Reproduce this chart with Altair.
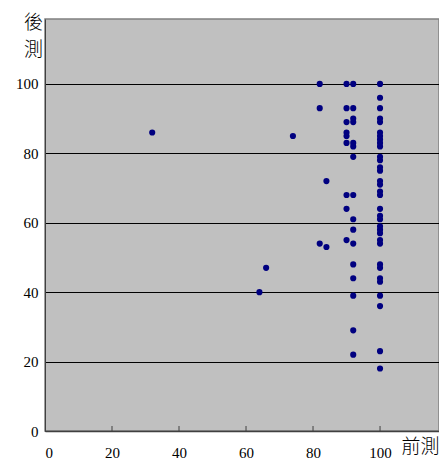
import altair as alt
import pandas as pd

# 前測 (pre-test) and 後測 (post-test) scores
pre = (
    [32, 74, 64, 66]
    + [82] * 3
    + [84] * 2
    + [90] * 9
    + [92] * 16
    + [100] * 34
)
post = (
    [86, 85, 40, 47]
    + [100, 93, 54]
    + [72, 53]
    + [100, 93, 89, 86, 85, 83, 68, 64, 55]
    + [100, 93, 90, 89, 83, 82, 79, 68, 61, 58, 54, 48, 44, 39, 29, 22]
    + [100, 96, 93, 90, 89, 86, 85, 84, 83, 82, 79, 78, 76, 75, 72, 71, 69, 68,
       64, 62, 61, 59, 58, 57, 55, 54, 48, 47, 44, 43, 39, 36, 23, 18]
)
x_ticks = [0, 20, 40, 60, 80, 100]
y_ticks = [0, 20, 40, 60, 80, 100]

df = pd.DataFrame({"pre": pre, "post": post})
ticks_df = pd.DataFrame({"t": x_ticks[1:]})

W, H = 394, 412
xscale = alt.Scale(domain=[0, 117.6], nice=False, zero=False)
yscale = alt.Scale(domain=[0, 118.7], nice=False, zero=False)

points = alt.Chart(df).mark_circle(size=38, color="#000080", opacity=1).encode(
    x=alt.X(
        "pre:Q",
        scale=xscale,
        axis=alt.Axis(
            values=x_ticks,
            title="前測",
            titleFont="Noto Sans CJK TC",
            titleFontSize=19,
            titleFontWeight=300,
            titleColor="#000000",
            titleAlign="right",
            titleAnchor="end",
            titleX=W,
            titleY=6,
            titleBaseline="top",
            labelFont="Liberation Serif",
            labelFontSize=15,
            labelColor="#000000",
            labelPadding=14,
            ticks=False,
            grid=False,
            domainColor="#404040",
            domainWidth=1.5,
        ),
    ),
    y=alt.Y(
        "post:Q",
        scale=yscale,
        axis=alt.Axis(
            values=y_ticks,
            title=["後", "測"],
            titleFont="Noto Sans CJK TC",
            titleFontSize=19,
            titleFontWeight=300,
            titleColor="#000000",
            titleAngle=0,
            titleAlign="center",
            titleBaseline="top",
            titleX=-12,
            titleY=-6,
            titleLineHeight=27,
            labelFont="Liberation Serif",
            labelFontSize=15,
            labelColor="#000000",
            labelPadding=7,
            ticks=False,
            grid=True,
            gridColor="#000000",
            gridWidth=1,
            domainColor="#404040",
            domainWidth=1,
        ),
    ),
)

tick_marks = alt.Chart(ticks_df).mark_rule(color="#404040", strokeWidth=1).encode(
    x=alt.X("t:Q", scale=xscale),
    y=alt.value(H - 5),
    y2=alt.value(H),
)

chart = (
    alt.layer(points, tick_marks)
    .properties(
        width=W,
        height=H,
        autosize=alt.AutoSizeParams(type="none"),
        padding={"left": 37, "top": 11, "right": 0, "bottom": 29},
        background="#ffffff",
    )
    .configure_view(fill="#C0C0C0", stroke="#808080", strokeWidth=1.5)
)

chart.save("out.html", embed_options={"renderer": "svg", "actions": False})
